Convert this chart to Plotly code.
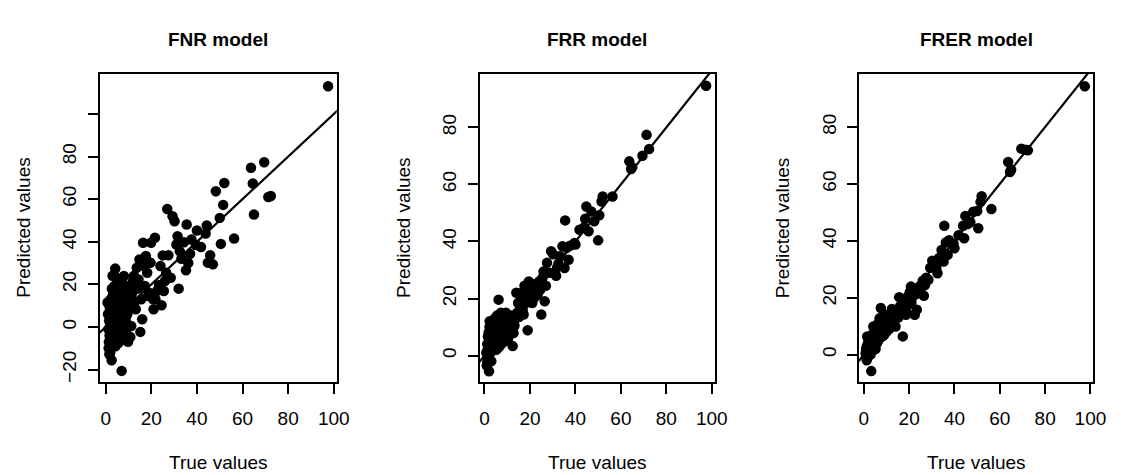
import plotly.graph_objects as go

# ---------------- data ----------------
true_values = [
    97.5,
    63.7, 64.5, 65.0, 69.5, 71.3, 72.4,
    56.3, 52.0, 51.5, 50.5, 50.0, 48.3, 47.0, 45.8, 44.8, 44.3, 43.8, 41.8, 40.0, 39.6,
    37.6, 37.0, 36.2, 35.5, 35.2, 34.3, 33.2, 32.5, 32.0, 31.5, 31.0, 30.2, 29.3, 28.5,
    27.5, 27.0, 26.5, 26.0, 25.5, 25.0, 24.5, 24.0, 23.4, 22.5, 21.8, 21.0, 20.3, 19.6,
    21.6, 20.8, 19.9, 19.5, 19.0, 18.6, 18.2, 17.6, 17.2, 16.8, 16.4, 16.0, 15.6, 15.2,
    14.8, 14.4, 14.0, 13.6, 13.2, 12.8, 12.4, 12.0, 11.6, 11.2, 10.8, 10.4, 10.0,
    0.8, 1.0, 1.2, 1.4, 1.5, 1.6, 1.8, 2.0, 2.0, 2.2,
    2.3, 2.5, 2.6, 2.8, 3.0, 3.0, 3.2, 3.3, 3.5, 3.6,
    3.8, 3.9, 4.0, 4.1, 4.2, 4.4, 4.5, 4.6, 4.8, 5.0,
    5.0, 5.2, 5.3, 5.5, 5.6, 5.8, 6.0, 6.0, 6.2, 6.4,
    6.5, 6.6, 6.8, 7.0, 7.0, 7.2, 7.4, 7.5, 7.6, 7.8,
    8.0, 8.0, 8.2, 8.4, 8.5, 8.6, 8.8, 9.0, 9.0, 9.2,
    9.4, 9.5, 9.6, 9.8, 2.4, 3.4, 4.3, 5.4, 6.3, 7.3,
    1.7, 2.7, 3.7, 4.7, 5.7, 6.7, 7.7, 8.7, 9.7, 1.3,
]

pred_fnr = [
    113.0,
    74.7, 67.3, 52.8, 77.3, 61.0, 61.5,
    41.5, 67.6, 57.3, 39.0, 51.2, 63.7, 29.4, 33.7, 30.2, 47.6, 43.9, 37.5, 45.3, 38.5,
    41.1, 34.4, 30.0, 48.1, 26.6, 39.8, 32.0, 35.5, 18.0, 42.6, 38.7, 49.6, 52.0, 23.1,
    33.7, 55.4, 25.5, 21.6, 16.9, 33.6, 10.2, 28.6, 19.7, 16.9, 13.0, 8.3, 14.6, 30.2,
    41.9, 13.0, 39.5, 30.2, 16.1, 14.6, 25.5, 33.3, 19.2, 28.6, 39.5, 3.6, 13.0, -2.3,
    31.7, 22.3, 18.0, 27.8, 8.3, 12.0, 24.0, 21.6, 16.1, 0.5, -4.7, 13.0, 19.0,
    11.5, 6.0, -1.0, -7.0, 3.0, -12.8, 9.0, -12.0, 1.5, 13.0,
    -5.0, 7.0, -15.6, 4.0, 24.0, -3.0, 15.0, -8.0, 10.0, 2.0,
    19.2, 23.9, -6.0, 12.0, 27.4, 5.0, -2.0, 16.0, 8.0, 14.0,
    -4.0, 22.3, 3.0, 10.0, -7.5, 17.0, 6.0, 0.0, 20.0, 12.0,
    -5.0, 9.0, 14.0, 16.1, -20.6, 4.0, 11.0, 1.0, 18.0, 7.0,
    23.9, -3.0, 13.0, 8.0, 19.2, -6.0, 10.0, 15.0, 2.0, -1.0,
    12.0, 6.0, 17.0, -6.9, 0.0, 9.0, -9.0, 13.0, 5.0, 21.0,
    -4.0, 18.0, 7.0, 1.0, 11.0, -2.0, 15.0, 4.0, 9.0, -10.0,
]

pred_frr = [
    94.6,
    68.1, 65.4, 66.0, 70.1, 77.4, 72.4,
    55.8, 55.8, 54.0, 49.2, 40.4, 47.1, 50.5, 43.6, 52.3, 48.0, 44.9, 44.1, 38.9, 39.5,
    38.5, 33.6, 37.8, 47.4, 30.7, 38.3, 34.8, 32.2, 31.0, 28.0, 29.0, 35.5, 36.6, 29.0,
    32.5, 24.5, 19.0, 29.5, 27.2, 14.4, 23.1, 26.0, 21.3, 24.5, 20.2, 18.4, 22.0, 22.5,
    25.0, 21.0, 20.5, 26.0, 8.9, 20.2, 18.4, 24.5, 14.4, 16.0, 22.0, 20.2, 17.5, 13.5,
    18.4, 15.0, 22.0, 12.9, 10.5, 7.9, 3.3, 14.0, 12.0, 9.5, 11.0, 6.0, 8.5,
    1.0, -3.5, 4.0, 2.0, 6.7, 0.9, 8.0, -5.5, 3.0, 10.0,
    12.0, 5.0, 1.0, 7.0, -2.0, 9.0, 4.0, 11.0, 6.0, 2.0,
    8.0, 12.0, 5.0, 3.0, 10.0, 7.0, 13.0, 4.0, 9.0, 6.0,
    11.0, 2.0, 8.0, 14.0, 5.0, 10.0, 7.0, 12.0, 19.6, 3.0,
    9.0, 13.0, 6.0, 11.0, 8.0, 15.0, 4.0, 10.0, 12.0, 7.0,
    9.0, 14.0, 6.0, 11.0, 8.0, 13.0, 10.0, 5.0, 12.0, 9.0,
    15.0, 7.0, 11.0, 13.0, 2.0, 6.0, 8.0, 4.0, 10.0, 12.0,
    3.0, 7.0, 9.0, 5.0, 11.0, 8.0, 6.0, 12.0, 10.0, -2.0,
]

pred_frer = [
    94.3,
    67.7, 64.2, 65.0, 72.4, 72.0, 71.8,
    51.2, 55.7, 53.7, 44.4, 50.5, 50.2, 46.5, 45.9, 48.7, 40.9, 45.3, 42.0, 37.4, 39.0,
    40.2, 35.1, 39.4, 45.3, 32.7, 36.8, 34.0, 28.6, 30.4, 31.6, 32.7, 33.0, 30.5, 26.3,
    27.0, 24.5, 20.7, 26.0, 24.0, 22.8, 23.9, 21.5, 15.8, 14.0, 20.5, 18.2, 22.0, 17.5,
    22.8, 23.9, 18.2, 20.5, 14.6, 14.0, 16.5, 18.2, 6.4, 15.8, 15.0, 17.0, 20.2, 13.0,
    15.8, 13.4, 9.9, 12.5, 14.0, 11.0, 16.0, 10.5, 12.0, 9.0, 13.0, 11.1, 8.0,
    0.5, 2.0, -1.0, 3.0, 6.4, 1.0, 4.0, -0.5, 2.5, 5.0,
    3.0, 1.5, 4.5, 2.0, 6.0, 0.0, 3.5, -5.8, 5.0, 7.0,
    2.5, 4.0, 6.5, 1.5, 9.9, 5.0, 3.0, 7.5, 4.5, 8.0,
    6.0, 2.0, 5.5, 9.0, 7.0, 4.0, 10.0, 6.5, 8.0, 11.0,
    5.0, 9.0, 7.0, 12.8, 8.5, 6.0, 10.0, 16.4, 9.0, 7.5,
    11.0, 8.0, 12.0, 6.5, 10.0, 13.0, 9.0, 11.0, 7.0, 12.0,
    10.0, 14.0, 8.5, 11.0, 3.0, 4.5, 6.0, 7.0, 8.0, 9.5,
    1.0, 3.5, 5.0, 6.0, 7.5, 9.0, 10.5, 12.0, 8.0, -2.0,
]

panel_titles = ["FNR model", "FRR model", "FRER model"]
x_title = "True values"
y_title = "Predicted values"
x_ticks = [0, 20, 40, 60, 80, 100]
y_ticks_fnr = [-20, 0, 20, 40, 60, 80, 100]
y_ticktext_fnr = ["\u221220", "0", "20", "40", "60", "80", ""]
y_ticks_other = [0, 20, 40, 60, 80]
identity_line = [-10, 120]   # y = x reference line

W, H = 1121, 475
FONT = "Liberation Sans, Arial, Helvetica, sans-serif"

# plot boxes in pixels: (left, right, top, bottom)
boxes = [(100, 340, 74, 383), (485, 723, 74, 383), (869, 1106, 74, 383)]
x_ranges = [[-2.6, 101.3], [-2.0, 101.4], [-2.05, 101.2]]
y_ranges = [[-25.9, 118.8], [-9.35, 98.8], [-9.7, 98.7]]
preds = [pred_fnr, pred_frr, pred_frer]

fig = go.Figure()
for i in range(3):
    sx = "" if i == 0 else str(i + 1)
    fig.add_trace(go.Scatter(
        x=true_values, y=preds[i], mode="markers",
        marker=dict(color="black", size=10.5, line=dict(width=0)),
        xaxis="x" + sx, yaxis="y" + sx, showlegend=False, cliponaxis=False,
    ))
    fig.add_trace(go.Scatter(
        x=identity_line, y=identity_line, mode="lines",
        line=dict(color="black", width=2.2),
        xaxis="x" + sx, yaxis="y" + sx, showlegend=False,
    ))

axis_common = dict(
    showline=True, linewidth=2, linecolor="black", mirror=True,
    ticks="outside", ticklen=10, tickwidth=2, tickcolor="black",
    showgrid=False, zeroline=False,
    tickfont=dict(family=FONT, size=19, color="black"),
)

layout = dict(
    width=W, height=H, margin=dict(l=0, r=0, t=0, b=0),
    paper_bgcolor="white", plot_bgcolor="white",
    font=dict(family=FONT, color="black"),
)
annotations = []
for i, (l, r, t, b) in enumerate(boxes):
    sx = "" if i == 0 else str(i + 1)
    layout["xaxis" + sx] = dict(
        axis_common, domain=[l / W, r / W], range=x_ranges[i],
        anchor="y" + sx, tickmode="array", tickvals=x_ticks,
        ticklabelstandoff=8,
    )
    if i == 0:
        yt, ytt = y_ticks_fnr, y_ticktext_fnr
    else:
        yt, ytt = y_ticks_other, [str(v) for v in y_ticks_other]
    layout["yaxis" + sx] = dict(
        axis_common, domain=[1 - b / H, 1 - t / H], range=y_ranges[i],
        anchor="x" + sx, tickmode="array", tickvals=yt, ticktext=ytt,
        tickangle=-90, ticklabelstandoff=4,
    )
    cx = (l + r) / 2
    cy = (t + b) / 2
    annotations.append(dict(
        text="<b>" + panel_titles[i] + "</b>", x=cx / W, y=1 - 40 / H,
        xref="paper", yref="paper", showarrow=False,
        xanchor="center", yanchor="middle",
        font=dict(family=FONT, size=19, color="black"),
    ))
    annotations.append(dict(
        text=x_title, x=cx / W, y=1 - 463 / H,
        xref="paper", yref="paper", showarrow=False,
        xanchor="center", yanchor="middle",
        font=dict(family=FONT, size=19, color="black"),
    ))
    annotations.append(dict(
        text=y_title, x=(l - 78) / W, y=1 - cy / H,
        xref="paper", yref="paper", showarrow=False, textangle=-90,
        xanchor="center", yanchor="middle",
        font=dict(family=FONT, size=19, color="black"),
    ))
layout["annotations"] = annotations
fig.update_layout(**layout)

fig.write_html(
    "out.html",
    config={"displayModeBar": False},
    post_script="document.body.style.margin='0';document.body.style.padding='0';",
)
